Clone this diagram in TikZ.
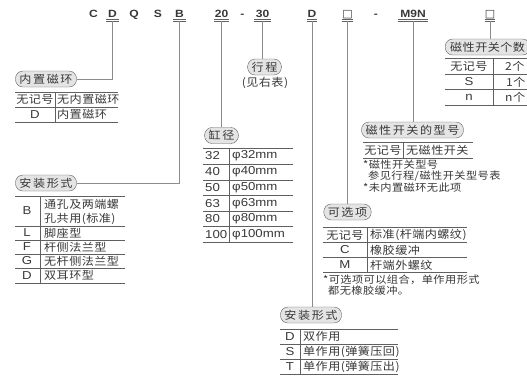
\documentclass[tikz,border=0pt]{standalone}
\usepackage{fontspec}
\setmainfont{Liberation Sans}[FakeStretch=1.15]
\newfontfamily\cjk{Noto Sans CJK SC}[FakeStretch=1.1, LetterSpace=4]
\newfontfamily\cjktag{Noto Sans CJK SC}[FakeStretch=1.1, LetterSpace=14]
\newfontfamily\sym{DejaVu Sans}
\usetikzlibrary{positioning}
\definecolor{ink}{HTML}{383838}
\definecolor{wiregray}{HTML}{8C8C8C}
\definecolor{rulegray}{HTML}{606060}
\definecolor{tagfill}{HTML}{E4E4E4}

\begin{document}
\begin{tikzpicture}[
    x=1pt, y=-1pt,
    code/.style={font=\fontsize{10.5}{12}\selectfont\bfseries, text=ink, inner xsep=0pt, inner ysep=0pt, anchor=base, minimum width=12pt},
    tag/.style={draw=rulegray, fill=tagfill, rounded corners=7.5pt, minimum height=16pt, inner xsep=4pt, inner ysep=0pt, font=\cjktag\fontsize{11}{12}\selectfont, text=ink},
    cell/.style={font=\fontsize{11.5}{12}\selectfont, text=ink, inner sep=0pt},
    zh/.style={cell, font=\cjk\fontsize{11}{12}\selectfont},
    note/.style={font=\cjk\fontsize{10.2}{11}\selectfont, text=ink, inner sep=0pt, anchor=west},
    wire/.style={draw=wiregray, line width=0.8pt},
    rule/.style={draw=rulegray, line width=0.7pt},
    uline/.style={draw=rulegray, line width=0.7pt},
    ]
   \useasboundingbox (0,0) rectangle (527,378);

   % Order code.
   \node[code] (cC) at (93.5,17.3) {C};
   \node[code] (cD) at (112.5,17.3) {D};
   \node[code] (cQ) at (134,17.3) {Q};
   \node[code] (cS) at (158,17.3) {S};
   \node[code] (cB) at (179.5,17.3) {B};
   \node[code, minimum width=15pt] (c20) at (221.5,17.3) {20};
   \node[code, minimum width=6pt] (dashA) at (242.5,17.3) {-};
   \node[code, minimum width=16pt] (c30) at (262.5,17.3) {30};
   \node[code, minimum width=10pt] (cD2) at (312,17.3) {D};
   \node[code, minimum width=11pt, font=\sym\fontsize{11}{12}\selectfont] (optBox) at (347.5,17.3) {□};
   \node[code, minimum width=6pt] (dashB) at (376,17.3) {-};
   \node[code, minimum width=30pt] (cM9N) at (413,17.3) {M9N};
   \node[code, minimum width=9pt, font=\sym\fontsize{11}{12}\selectfont] (cntBox) at (490,17.3) {□};

   % Double underlines.
   \draw[uline] ([yshift=-2pt]cD.base west) -- ([yshift=-2pt]cD.base east);
   \draw[uline] ([yshift=-4pt]cD.base west) -- ([yshift=-4pt]cD.base east);
   \draw[uline] ([yshift=-2pt]cB.base west) -- ([yshift=-2pt]cB.base east);
   \draw[uline] ([yshift=-4pt]cB.base west) -- ([yshift=-4pt]cB.base east);
   \draw[uline] ([yshift=-2pt]c20.base west) -- ([yshift=-2pt]c20.base east);
   \draw[uline] ([yshift=-4pt]c20.base west) -- ([yshift=-4pt]c20.base east);
   \draw[uline] ([yshift=-2pt]c30.base west) -- ([yshift=-2pt]c30.base east);
   \draw[uline] ([yshift=-4pt]c30.base west) -- ([yshift=-4pt]c30.base east);
   \draw[uline] ([yshift=-2pt]cD2.base west) -- ([yshift=-2pt]cD2.base east);
   \draw[uline] ([yshift=-4pt]cD2.base west) -- ([yshift=-4pt]cD2.base east);
   \draw[uline] ([yshift=-2pt]optBox.base west) -- ([yshift=-2pt]optBox.base east);
   \draw[uline] ([yshift=-4pt]optBox.base west) -- ([yshift=-4pt]optBox.base east);
   \draw[uline] ([yshift=-2pt]cM9N.base west) -- ([yshift=-2pt]cM9N.base east);
   \draw[uline] ([yshift=-4pt]cM9N.base west) -- ([yshift=-4pt]cM9N.base east);
   \draw[uline] ([yshift=-2pt]cntBox.base west) -- ([yshift=-2pt]cntBox.base east);
   \draw[uline] ([yshift=-4pt]cntBox.base west) -- ([yshift=-4pt]cntBox.base east);

   \coordinate (cD-u) at ([yshift=-4pt]cD.base);
   \coordinate (cB-u) at ([yshift=-4pt]cB.base);
   \coordinate (c20-u) at ([yshift=-4pt]c20.base);
   \coordinate (c30-u) at ([yshift=-4pt]c30.base);
   \coordinate (cD2-u) at ([yshift=-4pt]cD2.base);
   \coordinate (optBox-u) at ([yshift=-4pt]optBox.base);
   \coordinate (cM9N-u) at ([yshift=-4pt]cM9N.base);
   \coordinate (cntBox-u) at ([yshift=-4pt]cntBox.base);

   % Tags.
   \node[tag] (ringTag) at (46,79) {内置磁环};
   \node[tag] (mountTag) at (46,183) {安装形式};
   \node[tag] (boreTag) at (221.5,135.5) {缸径};
   \node[tag] (strokeTag) at (264.5,67) {行程};
   \node[zh] (strokeNote) at (265,83) {(见右表)};
   \node[tag] (actTag) at (311,315) {安装形式};
   \node[tag] (optTag) at (347.5,212) {可选项};
   \node[tag] (swTag) at (412.5,130) {磁性开关的型号};
   \node[tag, anchor=west, font=\cjk\fontsize{11}{12}\selectfont, inner xsep=5pt] (cntTag) at (445,47) {磁性开关个数};

   \draw[wire] (cD-u) |- (ringTag.east);
   \draw[wire] (cB-u) |- (mountTag.east);
   \draw[wire] (c20-u) -- (boreTag.north);
   \draw[wire] (c30-u) -- (c30-u |- strokeTag.north);
   \draw[wire] (cD2-u) -- (cD2-u |- actTag.north);
   \draw[wire] (optBox-u) -- (optBox-u |- optTag.north);
   \draw[wire] (cM9N-u) -- (cM9N-u |- swTag.north);
   \draw[wire] (cntBox-u) -- (cntBox-u |- cntTag.north);

   % Magnet ring table.
   \draw[rule] (15,92) -- (118,92) (15,107) -- (118,107) (15,122) -- (118,122);
   \draw[rule] (55,92) -- (55,122);
   \node[zh] (ringN) at (35,99.5) {无记号};
   \node[zh, anchor=west] (ringNx) at (57,99.5) {无内置磁环};
   \node[cell] (ringD) at (35,114.5) {D};
   \node[zh, anchor=west] (ringDx) at (57,114.5) {内置磁环};

   % Mounting table.
   \draw[rule] (15,196) -- (125,196) (15,226) -- (125,226) (15,240) -- (125,240)
               (15,254) -- (125,254) (15,268) -- (125,268) (15,283) -- (125,283);
   \draw[rule] (40,196) -- (40,283);
   \node[cell] (mountB) at (27,211) {B};
   \node[zh, anchor=west] (mountBx1) at (44,204) {通孔及两端螺};
   \node[zh, anchor=west] (mountBx2) at (44,218.5) {孔共用(标准)};
   \node[cell] (mountL) at (27,233) {L};
   \node[zh, anchor=west] (mountLx) at (44,233) {脚座型};
   \node[cell] (mountF) at (27,247) {F};
   \node[zh, anchor=west] (mountFx) at (44,247) {杆侧法兰型};
   \node[cell] (mountG) at (27,261) {G};
   \node[zh, anchor=west] (mountGx) at (44,261) {无杆侧法兰型};
   \node[cell] (mountD) at (27,275.5) {D};
   \node[zh, anchor=west] (mountDx) at (44,275.5) {双耳环型};

   % Bore table.
   \draw[rule] (203,148) -- (293,148) (203,164) -- (293,164) (203,180) -- (293,180)
               (203,195.5) -- (293,195.5) (203,211) -- (293,211) (203,226.5) -- (293,226.5)
               (203,242) -- (293,242);
   \draw[rule] (229,148) -- (229,242);
   \node[cell, anchor=west] (bore1) at (205,156) {32};
   \node[cell, anchor=west] (bore1x) at (232,156) {φ32mm};
   \node[cell, anchor=west] (bore2) at (205,172) {40};
   \node[cell, anchor=west] (bore2x) at (232,172) {φ40mm};
   \node[cell, anchor=west] (bore3) at (205,187.75) {50};
   \node[cell, anchor=west] (bore3x) at (232,187.75) {φ50mm};
   \node[cell, anchor=west] (bore4) at (205,203.25) {63};
   \node[cell, anchor=west] (bore4x) at (232,203.25) {φ63mm};
   \node[cell, anchor=west] (bore5) at (205,218.75) {80};
   \node[cell, anchor=west] (bore5x) at (232,218.75) {φ80mm};
   \node[cell, anchor=west] (bore6) at (205,234.25) {100};
   \node[cell, anchor=west] (bore6x) at (232,234.25) {φ100mm};

   % Action table.
   \draw[rule] (280,329) -- (398,329) (280,344) -- (398,344) (280,359) -- (398,359) (280,374) -- (398,374);
   \draw[rule] (300,329) -- (300,374);
   \node[cell] (actD) at (290,336.5) {D};
   \node[zh, anchor=west] (actDx) at (303,336.5) {双作用};
   \node[cell] (actS) at (290,351.5) {S};
   \node[zh, anchor=west] (actSx) at (303,351.5) {单作用(弹簧压回)};
   \node[cell] (actT) at (290,366.5) {T};
   \node[zh, anchor=west] (actTx) at (303,366.5) {单作用(弹簧压出)};

   % Options table.
   \draw[rule] (323,227) -- (467,227) (323,242.5) -- (467,242.5) (323,257.5) -- (467,257.5) (323,272) -- (467,272);
   \draw[rule] (367,227) -- (367,272);
   \node[zh] (optN) at (345,235) {无记号};
   \node[zh, anchor=west] (optNx) at (370,235) {标准(杆端内螺纹)};
   \node[cell] (optC) at (345,250) {C};
   \node[zh, anchor=west] (optCx) at (370,250) {橡胶缓冲};
   \node[cell] (optM) at (345,265) {M};
   \node[zh, anchor=west] (optMx) at (370,265) {杆端外螺纹};
   \node[note] (optNote1) at (323,280) {*可选项可以组合，单作用形式};
   \node[note] (optNote2) at (328,290.5) {都无橡胶缓冲。};

   % Switch type table.
   \draw[rule] (363,142) -- (473,142) (363,158) -- (473,158);
   \draw[rule] (403,142) -- (403,158);
   \node[zh] (swN) at (383,150) {无记号};
   \node[zh, anchor=west] (swNx) at (406,150) {无磁性开关};
   \node[note] (swNote1) at (363,165) {*磁性开关型号};
   \node[note] (swNote2) at (368,176.5) {参见行程/磁性开关型号表};
   \node[note] (swNote3) at (363,187.5) {*未内置磁环无此项};

   % Switch count table.
   \draw[rule] (445,58.5) -- (530,58.5) (445,74) -- (530,74) (445,89.5) -- (530,89.5) (445,105) -- (530,105);
   \draw[rule] (493,58.5) -- (493,105);
   \node[zh] (cntN) at (469,66) {无记号};
   \node[zh, anchor=west] (cntNx) at (505,66) {2个};
   \node[cell] (cntS) at (469,82) {S};
   \node[zh, anchor=west] (cntSx) at (506,82) {1个};
   \node[cell] (cntn) at (469,97) {n};
   \node[zh, anchor=west] (cntnx) at (505,97) {n个};

\end{tikzpicture}
\end{document}
